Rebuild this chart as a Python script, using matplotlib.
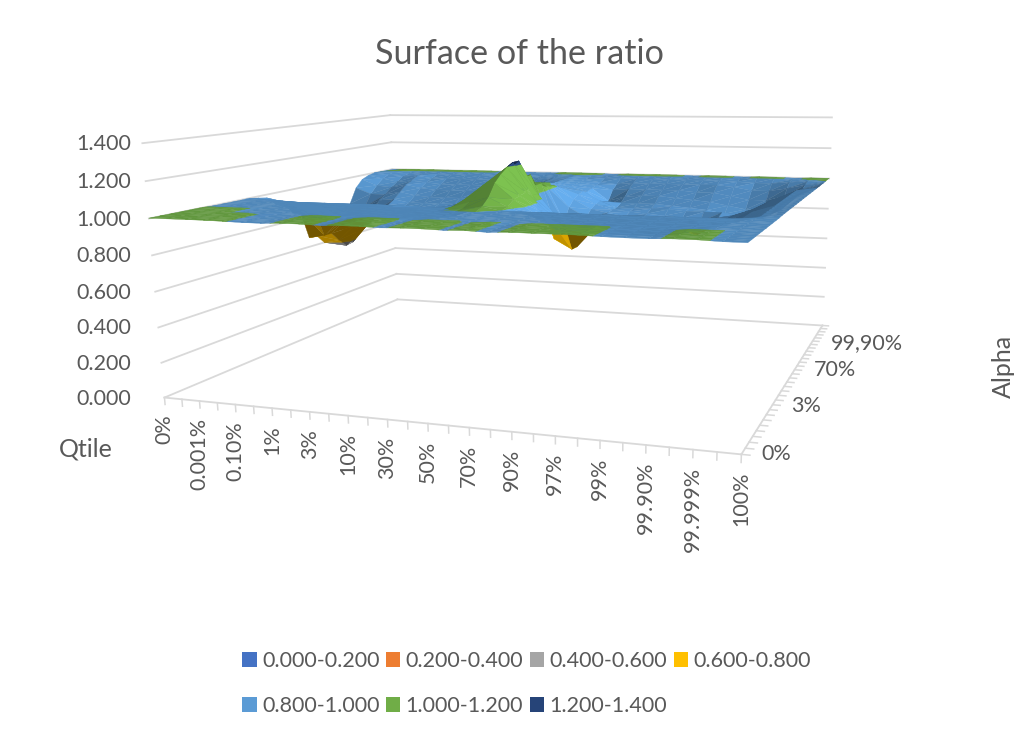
import numpy as np
import matplotlib
matplotlib.use("Agg")
import matplotlib.pyplot as plt
from matplotlib.patches import Patch
from mpl_toolkits.mplot3d import proj3d
from mpl_toolkits.mplot3d.art3d import Poly3DCollection

plt.rcParams["font.family"] = ["Lato", "DejaVu Sans"]

# ==== data ====
qtile_labels = ["0%", "0.001%", "0.10%", "1%", "3%", "10%", "30%", "50%",
                "70%", "90%", "97%", "99%", "99.90%", "99.999%", "100%"]
alpha_labels = ["0%", "3%", "70%", "99,90%"]
z_ticks = [0.0, 0.2, 0.4, 0.6, 0.8, 1.0, 1.2, 1.4]
band_labels = ["0.000-0.200", "0.200-0.400", "0.400-0.600", "0.600-0.800",
               "0.800-1.000", "1.000-1.200", "1.200-1.400"]
band_colors = ["#4472C4", "#ED7D31", "#A5A5A5", "#FFC000",
               "#5B9BD5", "#70AD47", "#264478"]
band_floor = [0.45, 0.45, 0.45, 0.45, 0.58, 0.75, 0.6]

# one list per alpha level, 29 qtile values each
r_front = [1.002, 1.002, 1.002, 1.002, 1.0005, .998, .998, 1.002, 1.002, .999, 1.002, 1.002, .999, 1.002, 1.002,
           .9995, 1.002, .998, 1.002, 1.002, 1.002, 1.002, .999, .998, .998, 1.002, 1.002, .998, .998]
r_wedge = [1.002, 1.002, 1.002, .998, .998, .998, .998, .998, .998, .998, .998, .998, .998, .998, .998,
           .998, .998, .998, .998, .998, .998, .998, .998, .998, .998, .998, .998, .998, .998]
r_flat = [.998, .998, .998, .998, .998, .998, .998, .998, .998, .998, .998, .998, .998, .998, .998,
          .998, .998, .998, .998, .998, .998, .998, .998, .998, .998, .998, .998, .998, .998]
r08 = [.998, .998, .998, .998, .998, .998, .998, .998, .998, .998, .998, .998, .998, 1.005, 1.02,
       1.0, .998, .998, .998, .998, .998, .998, .998, .998, .998, .998, .998, .998, .998]
r09 = [.998, .998, .998, .998, .998, .998, .998, .998, .998, .998, .99, .99, .995, 1.03, 1.06,
       1.01, .97, .93, .9, .88, .88, .88, .88, .89, .91, .94, .97, .995, .998]
r10 = [1.0, .995, .99, .985, .98, .98, .98, .98, .98, .98, .98, .98, 1.0, 1.07, 1.13,
       1.04, .97, .92, .89, .87, .87, .87, .87, .88, .9, .93, .96, .99, 1.0]
r11 = [.99, .975, .96, .95, .94, .94, .94, .94, .94, .94, .95, .97, 1.0, 1.1, 1.17,
       1.05, .97, .91, .88, .86, .86, .86, .86, .87, .89, .92, .96, .99, 1.0]
r12 = [.98, .96, .94, .92, .9, .9, .9, .9, .9, .9, .92, .97, 1.0, 1.11, 1.2,
       1.06, .96, .89, .86, .85, .85, .85, .85, .86, .88, .92, .96, .99, 1.0]
r14 = [.93, .9, .89, .87, .86, .86, .86, .86, .86, .87, .89, .96, .99, 1.11, 1.22,
       1.03, .9, .84, .85, .84, .84, .84, .84, .85, .87, .91, .96, .99, 1.0]
r16 = [.85, .84, .83, .84, .84, .84, .84, .84, .84, .85, .87, .94, .99, 1.08, 1.12,
       .86, .78, .82, .84, .83, .83, .83, .83, .84, .86, .9, .95, .99, 1.0]
r18 = [.66, .68, .78, .83, .83, .83, .83, .83, .83, .85, .87, .94, .98, 1.05, 1.05,
       .72, .66, .78, .83, .82, .82, .81, .8, .83, .85, .89, .95, .99, 1.0]
r19 = [.6, .62, .72, .82, .82, .82, .82, .82, .83, .84, .87, .92, .98, 1.04, 1.02,
       .8, .8, .82, .82, .82, .81, .8, .77, .81, .85, .89, .95, .99, 1.0]
r20 = [.58, .57, .68, .82, .82, .82, .82, .82, .83, .84, .87, .92, .98, 1.03, 1.01,
       .88, .82, .84, .82, .82, .81, .78, .74, .79, .85, .89, .95, .99, 1.0]
r21 = [.58, .58, .7, .82, .82, .82, .82, .82, .83, .84, .87, .92, .98, 1.02, 1.0,
       .92, .86, .84, .82, .82, .81, .78, .72, .78, .85, .89, .95, .99, 1.0]
r22 = [.68, .68, .78, .83, .82, .82, .82, .82, .83, .84, .86, .92, .98, 1.01, .98,
       .94, .88, .85, .84, .83, .82, .81, .79, .82, .84, .88, .94, .99, 1.0]
r23 = [.82, .8, .85, .86, .84, .84, .84, .84, .84, .84, .86, .92, .98, 1.0, .97,
       .95, .89, .85, .85, .85, .85, .84, .84, .84, .82, .87, .93, .99, 1.0]
r24 = [.92, .88, .88, .9, .88, .87, .87, .87, .87, .87, .88, .93, .98, .995, .97,
       .94, .84, .87, .87, .87, .86, .85, .84, .82, .8, .8, .85, .95, 1.0]
r25 = [.97, .93, .92, .94, .92, .91, .91, .91, .91, .91, .91, .94, .98, .995, .975,
       .95, .87, .9, .91, .91, .9, .89, .88, .86, .84, .84, .88, .96, 1.0]
r26 = [.99, .97, .95, .96, .95, .94, .94, .94, .94, .94, .94, .96, .985, .995, .98,
       .96, .93, .94, .94, .94, .94, .93, .93, .91, .89, .89, .92, .97, 1.0]
r27 = [1.0, .99, .98, .985, .97, .97, .97, .97, .97, .97, .97, .98, .99, .997, .985,
       .97, .96, .97, .97, .97, .97, .97, .97, .96, .94, .94, .96, .985, 1.0]
r28 = [1.0, .998, .99, .99, .99, .99, .99, .99, .99, .99, .99, .99, .995, .998, .99,
       .99, .99, .99, .99, .99, .99, .99, .99, .985, .98, .98, .99, .998, 1.0]
r_back = [.998, 1.002, 1.002, 1.002, 1.002, 1.002, 1.002, 1.002, .998, .998, .998, .998, 1.002, 1.002, 1.002,
          .998, 1.002, 1.002, 1.002, 1.002, .998, 1.002, 1.002, .998, 1.002, 1.002, .998, 1.002, 1.002]

ratio = np.array([r_front, r_front, r_front, r_front, r_wedge, r_wedge, r_flat, r_flat, r08, r09,
                  r10, r11, r12, r14, r14, r16, r16, r18, r18, r19,
                  r20, r21, r22, r23, r24, r25, r26, r27, r28, r_back, r_back])

n_alpha, n_q = ratio.shape
W, H = 1015, 732

# ==== axes, the camera was worked out from the corners of the floor ====
S = 900
fig = plt.figure(figsize=(W / 100, H / 100), dpi=100, facecolor="white")
ax = fig.add_axes([65 / W, -88 / H, S / W, S / H], projection="3d", computed_zorder=False)
ax.set_proj_type("persp", focal_length=0.2535)
ax.view_init(elev=13.9, azim=-69.5, roll=0.77)
ax.set_xlim(0, n_q - 1, view_margin=0)
ax.set_ylim(0, n_alpha - 1, view_margin=0)
ax.set_zlim(-1.4, 1.4, view_margin=0)
box = np.array([2.2, 2.0, 1.91])
ax.set_box_aspect(box, zoom=0.9)
ax.set_axis_off()
ax.patch.set_alpha(0)

x_max, y_max = n_q - 1, n_alpha - 1
grid = "#D9D9D9"
for z in z_ticks:
    ax.plot([0, 0], [0, y_max], [z, z], color=grid, lw=1.3, zorder=1)
    ax.plot([0, x_max], [y_max, y_max], [z, z], color=grid, lw=1.3, zorder=1)
ax.plot([0, x_max], [0, 0], [0, 0], color=grid, lw=1.3, zorder=1)
ax.plot([x_max, x_max], [0, y_max], [0, 0], color=grid, lw=1.3, zorder=1)
for j in range(n_q):
    ax.plot([j, j], [0, 0], [0, -0.04], color=grid, lw=1.1, zorder=1)
for i in range(n_alpha):
    ax.plot([x_max, x_max + 0.35], [i, i], [0, 0], color=grid, lw=1.1, zorder=1)


# ==== surface, cut into value bands like Excel does ====
def clip_band(poly, lo, hi):
    for level, sign in ((lo, 1), (hi, -1)):
        out = []
        for a, b in zip(poly, poly[1:] + poly[:1]):
            da, db = sign * (a[2] - level), sign * (b[2] - level)
            if da >= 0:
                out.append(a)
            if da * db < 0:
                t = da / (da - db)
                out.append(tuple(a[k] + t * (b[k] - a[k]) for k in range(3)))
        poly = out
        if len(poly) < 3:
            return []
    return poly


scale = np.array([box[0] / (n_q - 1), box[1] / (n_alpha - 1), box[2] / 2.8])
light = np.array([0.7, 0.0, 0.7])
polys, faces = [], []
for i in range(n_alpha - 1):
    for j in range(n_q - 1):
        p00 = (j, i, ratio[i, j])
        p10 = (j + 1, i, ratio[i, j + 1])
        p11 = (j + 1, i + 1, ratio[i + 1, j + 1])
        p01 = (j, i + 1, ratio[i + 1, j])
        for tri in ([p00, p10, p11], [p00, p11, p01]):
            t = np.array(tri) * scale
            n = np.cross(t[1] - t[0], t[2] - t[0])
            n = n / np.linalg.norm(n)
            for b, col in enumerate(band_colors):
                part = clip_band(tri, b * 0.2, (b + 1) * 0.2)
                if part:
                    shade = np.clip(0.87 + n @ light - light[2], band_floor[b], 1.12)
                    rgb = np.array(matplotlib.colors.to_rgb(col))
                    polys.append(part)
                    faces.append(tuple(np.clip(rgb * shade, 0, 1)))

surf = Poly3DCollection(polys, facecolors=faces, edgecolors=faces, linewidths=0.25, zorder=3)
ax.add_collection3d(surf)


# ==== text ====
def to_px(x, y, z):
    px, py, _ = proj3d.proj_transform(x, y, z, ax.get_proj())
    return ax.transData.transform((px, py))


txt = "#595959"
for k, lab in enumerate(qtile_labels):
    dx, dy = to_px(2 * k, 0, 0)
    fig.text(dx / W, (dy - 17) / H, lab, rotation=90, ha="center", va="top", fontsize=15.5, color=txt)
for k, lab in enumerate(alpha_labels):
    r = 10 * k
    dx, dy = to_px(x_max, r, 0)
    fig.text((dx + 20 - 0.4 * r) / W, (dy - 0.57 * r) / H, lab, ha="left", va="center", fontsize=15.5, color=txt)
for z in z_ticks:
    dy = to_px(0, 0, z)[1]
    fig.text(131 / W, (dy - 1) / H, f"{z:.3f}", ha="right", va="center", fontsize=15.5, color=txt)

fig.text(519 / W, 1 - 54 / H, "Surface of the ratio", ha="center", va="center", fontsize=24.6, color=txt)
fig.text(86 / W, 1 - 449 / H, "Qtile", ha="center", va="center", fontsize=18, color=txt)
fig.text(1003 / W, 1 - 366 / H, "Alpha", ha="center", va="center", rotation=90, fontsize=18, color=txt)

# legend fills by column, so hand the entries over in that order
order = [0, 4, 1, 5, 2, 6, 3]
handles = [Patch(facecolor=band_colors[k], label=band_labels[k]) for k in order]
fig.legend(handles=handles, ncol=4, loc="upper left", bbox_to_anchor=(225 / W, 1 - 634 / H), frameon=False,
           fontsize=15.5, labelcolor=txt, handlelength=0.67, handleheight=0.67, handletextpad=0.25,
           columnspacing=0.3, labelspacing=1.15, borderpad=0.3)

fig.savefig("out.png", dpi=100)
